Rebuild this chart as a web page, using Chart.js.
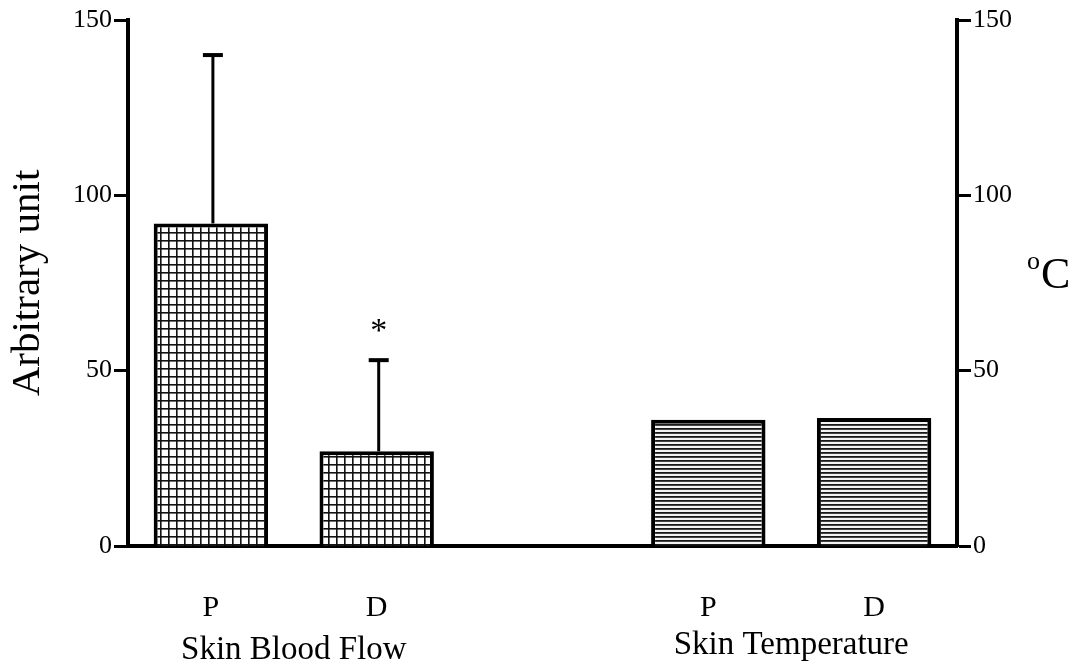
<!DOCTYPE html>
<html>
<head>
<meta charset="utf-8">
<script src="https://cdn.jsdelivr.net/npm/chart.js@4"></script>
<style>
  html, body { margin: 0; padding: 0; background: #fff; }
  #wrap { width: 1081px; height: 671px; }
</style>
</head>
<body>
<div id="wrap"><canvas id="myChart" width="1081" height="671"></canvas></div>
<script>
const ctx = document.getElementById('myChart');

const categorias = ['P', 'D', '', 'P', 'D'];
const grupos = ['Skin Blood Flow', 'Skin Temperature'];
const fluxo = [92, 27, null, null, null];
const fluxoErroTopo = [140, 53, null, null, null];
const temperatura = [null, null, null, 36, 36.5];
const significativo = [false, true, false, false, false];

const serif = '"Liberation Serif", "Times New Roman", serif';

// padrao quadriculado (fluxo sanguineo)
function padraoGrade() {
  const c = document.createElement('canvas');
  c.width = 8; c.height = 8;
  const g = c.getContext('2d');
  g.fillStyle = '#fff';
  g.fillRect(0, 0, 8, 8);
  g.fillStyle = '#111';
  g.fillRect(0, 0, 8, 1.6);
  g.fillRect(0, 0, 1.6, 8);
  return g.createPattern(c, 'repeat');
}

// padrao de linhas horizontais (temperatura)
function padraoLinhas() {
  const c = document.createElement('canvas');
  c.width = 4; c.height = 4;
  const g = c.getContext('2d');
  g.fillStyle = '#f4f4f4';
  g.fillRect(0, 0, 4, 4);
  g.fillStyle = '#1a1a1a';
  g.fillRect(0, 0, 4, 1.8);
  return g.createPattern(c, 'repeat');
}

const extras = {
  id: 'extras',
  afterDatasetsDraw(chart) {
    const c = chart.ctx;
    const x = chart.scales.x;
    const y = chart.scales.y;
    const meta = chart.getDatasetMeta(0);
    c.save();
    c.strokeStyle = '#000';
    c.fillStyle = '#000';
    // barras de erro
    fluxoErroTopo.forEach((v, i) => {
      if (v == null) return;
      const bar = meta.data[i];
      const px = bar.x + 2;
      const top = y.getPixelForValue(v);
      c.lineWidth = 3;
      c.beginPath();
      c.moveTo(px, bar.y);
      c.lineTo(px, top);
      c.stroke();
      c.lineWidth = 4;
      c.beginPath();
      c.moveTo(px - 10, top);
      c.lineTo(px + 10, top);
      c.stroke();
      if (significativo[i]) {
        c.font = '34px ' + serif;
        c.textAlign = 'center';
        c.textBaseline = 'middle';
        c.fillText('*', px, top - 28);
      }
    });
    // rotulos dos grupos
    c.font = '33px ' + serif;
    c.textAlign = 'center';
    c.textBaseline = 'middle';
    const g1 = (x.getPixelForValue(0) + x.getPixelForValue(1)) / 2;
    const g2 = (x.getPixelForValue(3) + x.getPixelForValue(4)) / 2;
    c.fillText(grupos[0], g1, 650);
    c.fillText(grupos[1], g2, 645);
    // titulo do eixo direito (oC)
    c.font = '26px ' + serif;
    c.textAlign = 'left';
    c.fillText('o', 1027, 262);
    c.font = '44px ' + serif;
    c.fillText('C', 1041, 276);
    c.restore();
  }
};

new Chart(ctx, {
  type: 'bar',
  data: {
    labels: categorias,
    datasets: [
      {
        label: 'Skin Blood Flow',
        data: fluxo,
        yAxisID: 'y',
        backgroundColor: padraoGrade(),
        borderColor: '#000',
        borderWidth: 4,
        borderSkipped: 'bottom',
        grouped: false,
      },
      {
        label: 'Skin Temperature',
        data: temperatura,
        yAxisID: 'y1',
        backgroundColor: padraoLinhas(),
        borderColor: '#000',
        borderWidth: 4,
        borderSkipped: 'bottom',
        grouped: false,
      }
    ]
  },
  options: {
    responsive: false,
    animation: false,
    events: [],
    layout: { padding: { top: 20, left: 0, right: 0, bottom: 0 } },
    datasets: { bar: { barPercentage: 0.69, categoryPercentage: 1 } },
    scales: {
      x: {
        offset: true,
        grid: { display: false, drawTicks: false },
        border: { display: true, color: '#000', width: 4 },
        ticks: { color: '#000', font: { family: serif, size: 30 }, padding: 44, maxRotation: 0 },
        afterFit(s) { s.height = 125; }
      },
      y: {
        position: 'left',
        min: 0, max: 150,
        grid: { drawOnChartArea: false, color: '#000', tickLength: 14, tickWidth: 3 },
        border: { display: true, color: '#000', width: 4 },
        ticks: { stepSize: 50, color: '#000', font: { family: serif, size: 26 }, padding: 2 },
        title: { display: true, text: 'Arbitrary unit', color: '#000', font: { family: serif, size: 41 }, padding: { top: 4, bottom: 0 } },
        afterFit(s) { s.width = 128; }
      },
      y1: {
        position: 'right',
        min: 0, max: 150,
        grid: { drawOnChartArea: false, color: '#000', tickLength: 14, tickWidth: 3 },
        border: { display: true, color: '#000', width: 4 },
        ticks: { stepSize: 50, color: '#000', font: { family: serif, size: 26 }, padding: 2 },
        afterFit(s) { s.width = 124; }
      }
    },
    plugins: {
      legend: { display: false },
      tooltip: { enabled: false }
    }
  },
  plugins: [extras]
});
</script>
</body>
</html>
